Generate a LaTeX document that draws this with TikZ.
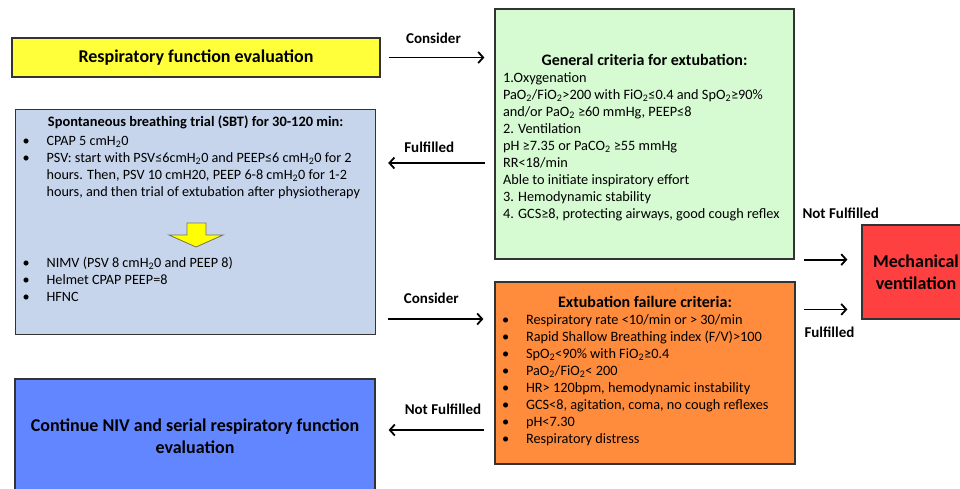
\documentclass[tikz,border=0pt]{standalone}
\usepackage{fontspec}
\setmainfont{Carlito}
\usetikzlibrary{arrows.meta}

\definecolor{evalyellow}{RGB}{255,255,58}
\definecolor{sbtblue}{RGB}{198,213,236}
\definecolor{critgreen}{RGB}{214,250,210}
\definecolor{failorange}{RGB}{255,140,60}
\definecolor{mechred}{RGB}{255,64,64}
\definecolor{contblue}{RGB}{98,134,255}
\definecolor{downyellow}{RGB}{255,255,0}

\newcommand{\lo}[1]{\textsubscript{#1}}
\newcommand{\itm}[1]{\par\hangindent=25pt\hangafter=1\noindent\makebox[25pt][l]{\hspace{1pt}\textbullet}#1}

\begin{document}
\begin{tikzpicture}[x=1pt, y=-1pt,
    box/.style={draw=black!80, line width=1.2pt, inner xsep=6pt, inner ysep=0pt},
    title/.style={font=\fontsize{18}{22}\selectfont\bfseries, align=center},
    arr/.style={-{Straight Barb[length=5pt, width=11pt]}, line width=1.8pt},
    lbl/.style={font=\fontsize{15}{18}\selectfont\bfseries, inner sep=0pt}]
  \useasboundingbox (0,0) rectangle (960,488);
  \clip (0,0) rectangle (960,488);
  \fontsize{14}{17}\selectfont

  % left column
  \node[box, title, fill=evalyellow, minimum width=368pt, minimum height=39pt] (eval) at (196,57.5) {Respiratory function evaluation};
  \node[box, fill=sbtblue, anchor=north west, inner ysep=6pt] (sbt) at (15,109) {\parbox[c][213pt][t]{348pt}{\raggedright\fontsize{14.2}{17}\selectfont
    {\centering\fontsize{14.4}{18}\selectfont\bfseries Spontaneous breathing trial (SBT) for 30-120 min:\par}
    \vspace{2pt}
    \itm{CPAP 5 cmH\lo{2}0}
    \itm{PSV: start with PSV≤6cmH\lo{2}0 and PEEP≤6 cmH\lo{2}0 for 2\newline hours. Then, PSV 10 cmH20, PEEP 6-8 cmH\lo{2}0 for 1-2\newline hours, and then trial of extubation after physiotherapy}
    \par\vspace{54pt}
    \itm{NIMV (PSV 8 cmH\lo{2}0 and PEEP 8)}
    \itm{Helmet CPAP PEEP=8}
    \itm{HFNC}}};
  \node[box, title, fill=contblue, minimum width=360pt, minimum height=114pt] (cont) at (195,436) {Continue NIV and serial respiratory function\\evaluation};

  % yellow down arrow inside the SBT box
  \filldraw[fill=downyellow, draw=black!60!yellow, line width=0.8pt]
    (187,223) -- (206,223) -- (206,235) -- (223,235) -- (196,247) -- (169,235) -- (187,235) -- cycle;

  % middle column
  \node[box, fill=critgreen, inner xsep=8pt] (gen) at (644.5,134) {\parbox[c][250pt][c]{283pt}{\raggedright\fontsize{14.3}{17}\selectfont
    \vspace*{7pt}
    {\centering\fontsize{16}{19}\selectfont\bfseries General criteria for extubation:\par}
    1.Oxygenation\\
    PaO\lo{2}/FiO\lo{2}>200 with FiO\lo{2}≤0.4 and SpO\lo{2}≥90\%\\
    and/or PaO\lo{2} ≥60 mmHg, PEEP≤8\\
    2. Ventilation\\
    pH ≥7.35 or PaCO\lo{2} ≥55 mmHg\\
    RR<18/min\\
    Able to initiate inspiratory effort\\
    3. Hemodynamic stability\\
    4. GCS≥8, protecting airways, good cough reflex}};
  \node[box, fill=failorange] (fail) at (645,373) {\parbox[c][182pt][c]{288pt}{\raggedright\fontsize{14.3}{17}\selectfont
    {\centering\fontsize{16}{18}\selectfont\bfseries Extubation failure criteria:\par}
    \itm{Respiratory rate <10/min or > 30/min}
    \itm{Rapid Shallow Breathing index (F/V)>100}
    \itm{SpO\lo{2}<90\% with FiO\lo{2}≥0.4}
    \itm{PaO\lo{2}/FiO\lo{2}< 200}
    \itm{HR> 120bpm, hemodynamic instability}
    \itm{GCS<8, agitation, coma, no cough reflexes}
    \itm{pH<7.30}
    \itm{Respiratory distress}\par\vspace{4pt}}};

  % right column
  \node[box, title, fill=mechred, minimum width=108pt, minimum height=94pt] (mech) at (916,272) {Mechanical\\ventilation};

  % connectors
  \draw[arr, shorten <=8pt, shorten >=10pt] (eval.east) -- (eval.east -| gen.west)
    node[lbl, midway, xshift=-4pt, yshift=19pt] (c1) {Consider};
  \draw[arr, shorten <=9pt, shorten >=12pt] ([yshift=-29pt]gen.west) -- ([yshift=-29pt]gen.west -| sbt.east)
    node[lbl, midway, xshift=-6pt, yshift=16pt] (f1) {Fulfilled};
  \draw[arr, shorten <=12pt, shorten >=11pt] ([yshift=54pt]fail.west -| sbt.east) -- ([yshift=54pt]fail.west)
    node[lbl, midway, xshift=-4pt, yshift=21pt] (c2) {Consider};
  \draw[arr, shorten <=10pt, shorten >=13pt] ([yshift=-57pt]fail.west) -- ([yshift=-57pt]fail.west -| cont.east)
    node[lbl, midway, xshift=8pt, yshift=21pt] (n1) {Not Fulfilled};
  \draw[arr, shorten >=14pt] ([xshift=9pt]gen.south east) -- (gen.south east -| mech.west)
    node[lbl, pos=0, anchor=west, xshift=-2pt, yshift=46pt] (n2) {Not Fulfilled};
  \draw[arr, shorten >=14pt] ([xshift=8pt, yshift=-28pt]fail.north east) -- ([yshift=-28pt]fail.north east -| mech.west)
    node[lbl, pos=0, anchor=west, yshift=-23pt] (f2) {Fulfilled};
\end{tikzpicture}
\end{document}
